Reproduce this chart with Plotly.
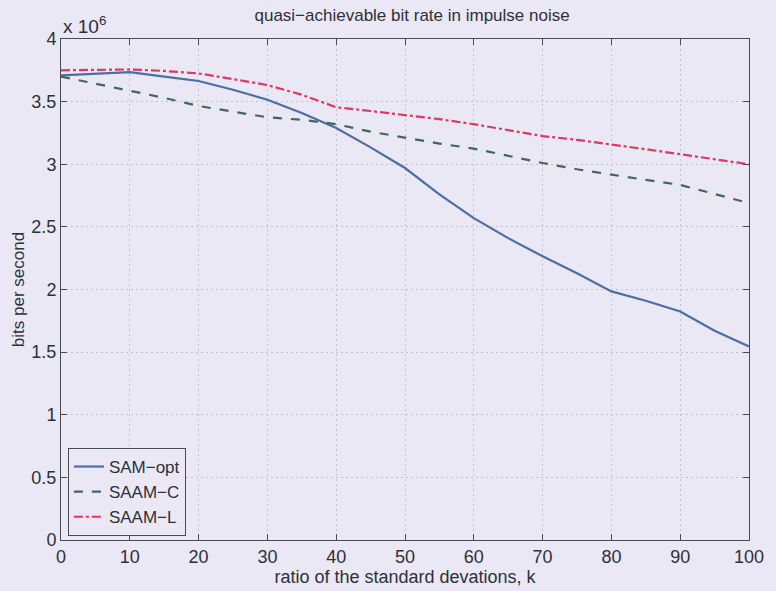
import plotly.graph_objects as go

k = [0, 5, 10, 15, 20, 25, 30, 35, 40, 45, 50, 55, 60, 65, 70, 75, 80, 85, 90, 95, 100]
sam_opt = [3.71, 3.725, 3.735, 3.70, 3.665, 3.595, 3.515, 3.41, 3.29, 3.135, 2.97, 2.76, 2.57, 2.41, 2.265, 2.13, 1.985, 1.91, 1.825, 1.67, 1.545]
saam_c = [3.70, 3.645, 3.59, 3.53, 3.465, 3.42, 3.375, 3.355, 3.32, 3.26, 3.21, 3.165, 3.125, 3.065, 3.01, 2.96, 2.915, 2.875, 2.835, 2.76, 2.69]
saam_l = [3.75, 3.755, 3.757, 3.745, 3.725, 3.68, 3.632, 3.555, 3.455, 3.425, 3.395, 3.36, 3.32, 3.275, 3.225, 3.195, 3.16, 3.12, 3.08, 3.04, 3.00]

x_ticks = [0, 10, 20, 30, 40, 50, 60, 70, 80, 90, 100]
y_ticks = [0, 0.5, 1, 1.5, 2, 2.5, 3, 3.5, 4]
y_tick_text = ["0", "0.5", "1", "1.5", "2", "2.5", "3", "3.5", "4"]

bg = "#e9e8f4"
axis_col = "#4a4a55"
txt_col = "#303038"
font_fam = "Liberation Sans, Arial, sans-serif"

fig = go.Figure()
fig.add_trace(go.Scatter(x=k, y=sam_opt, mode="lines", name="SAM−opt",
                         line=dict(color="#4b6ea3", width=2.2, dash="solid")))
fig.add_trace(go.Scatter(x=k, y=saam_c, mode="lines", name="SAAM−C",
                         line=dict(color="#40685a", width=2.2, dash="dash")))
fig.add_trace(go.Scatter(x=k, y=saam_l, mode="lines", name="SAAM−L",
                         line=dict(color="#e03660", width=2.2, dash="dashdot")))

grid_col = "#c2c1d0"

fig.update_layout(
    width=776, height=591,
    paper_bgcolor=bg, plot_bgcolor=bg,
    margin=dict(l=61, r=15, t=39, b=51),
    font=dict(family=font_fam, color=txt_col, size=17),
    title=dict(text="quasi−achievable bit rate in impulse noise", x=0.531, xanchor="center",
               y=0.974, yanchor="middle", font=dict(family=font_fam, size=17, color=txt_col)),
    xaxis=dict(range=[0, 100], tickvals=x_ticks, ticks="inside", ticklen=6, tickcolor=axis_col,
               showline=True, linecolor=axis_col, linewidth=1, mirror="ticks",
               showgrid=True, gridcolor=grid_col, griddash="2px,3px", gridwidth=1,
               zeroline=False, tickfont=dict(size=18, color=txt_col), ticklabeloverflow="allow",
               title=dict(text="ratio of the standard devations, k",
                          font=dict(family=font_fam, size=18, color=txt_col), standoff=0)),
    yaxis=dict(range=[0, 4], tickvals=y_ticks, ticktext=y_tick_text, ticks="inside", ticklen=6,
               tickcolor=axis_col, showline=True, linecolor=axis_col, linewidth=1, mirror="ticks",
               showgrid=True, gridcolor=grid_col, griddash="2px,3px", gridwidth=1,
               zeroline=False, tickfont=dict(size=18, color=txt_col),
               title=dict(text="bits per second",
                          font=dict(family=font_fam, size=17, color=txt_col), standoff=2)),
    legend=dict(x=0.01, y=0.008, xanchor="left", yanchor="bottom",
                bgcolor=bg, bordercolor=axis_col, borderwidth=1,
                font=dict(size=17, color=txt_col), tracegroupgap=0),
    showlegend=True,
)

fig.add_annotation(text="x 10<sup>6</sup>", xref="paper", yref="paper", x=0.0, y=1.0,
                   xanchor="left", yanchor="bottom", showarrow=False, yshift=0,
                   font=dict(family=font_fam, size=19, color=txt_col))

fig.write_html("out.html")
